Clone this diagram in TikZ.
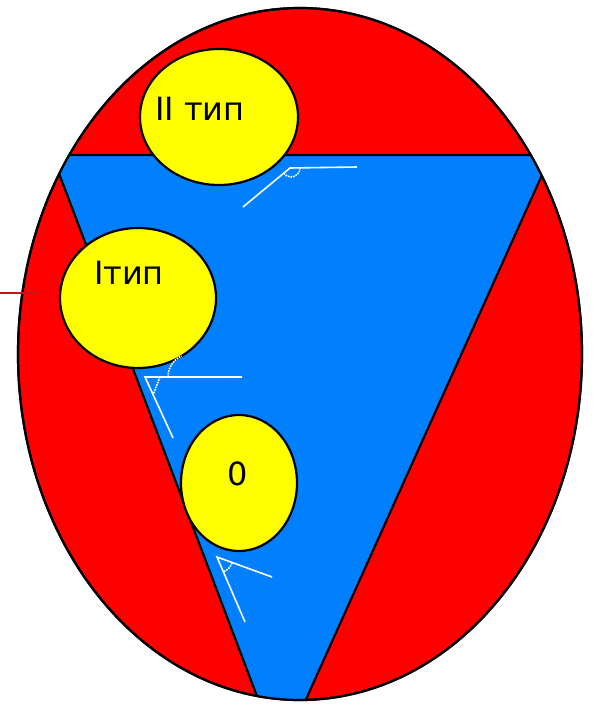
\documentclass[tikz,border=0pt]{standalone}
\usepackage{fontspec}
\setmainfont{DejaVu Sans}
\usetikzlibrary{shapes.geometric}
\definecolor{heartred}{RGB}{255,0,0}
\definecolor{flowblue}{RGB}{0,128,255}
\definecolor{cellyel}{RGB}{255,255,0}
\definecolor{tickred}{RGB}{200,20,20}
\begin{document}
\begin{tikzpicture}[x=1pt, y=-1pt,
        cell/.style={draw, ellipse, line width=2.2pt, fill=cellyel, inner sep=0pt},
        txt/.style={font=\fontsize{32}{32}\selectfont, anchor=base},
        mk/.style={draw=white, line width=1.6pt}
    ]
    \useasboundingbox (0,0) rectangle (594,705);
    % outer body
    \draw[line width=2.2pt, fill=heartred] (300,354) ellipse [x radius=282, y radius=346];
    \begin{scope}
        \clip (300,354) ellipse [x radius=282, y radius=346];
        \draw[line width=2.2pt, fill=flowblue] (52,155) -- (551,155) -- (280,757) -- cycle;
    \end{scope}
    \draw[line width=2.2pt] (300,354) ellipse [x radius=282, y radius=346];
    % cells
    \node[cell, minimum width=158pt, minimum height=136pt] (two)  at (219,117) {};
    \node[cell, minimum width=156pt, minimum height=140pt] (one)  at (138,298) {};
    \node[cell, minimum width=116pt, minimum height=136pt] (zero) at (239,483) {};
    \node[txt] (twolbl)  at (200,120) {II тип};
    \node[txt] (onelbl)  at (129,284) {Ітип};
    \node[txt] (zerolbl) at (238,485) {0};
    % angle marks
    \draw[mk] (357,167) -- (290,168) -- (243,207);
    \draw[mk, densely dotted] (300,168) arc (0:140:9);
    \draw[mk] (242,377) -- (145,377) -- (173,438);
    \draw[mk, densely dotted] (168,377) arc (0:66:-23);
    \draw[mk, densely dotted] (160,377) -- (153,395);
    \draw[mk] (272,577) -- (217,557) -- (245,622);
    \draw[mk, densely dotted] (232,563) arc (20:70:15);
    % side tick
    \coordinate (tickA) at (0,293);
    \coordinate (tickB) at (40,293);
    \draw[tickred, line width=1.5pt] (tickA) -- (tickB);
\end{tikzpicture}
\end{document}
